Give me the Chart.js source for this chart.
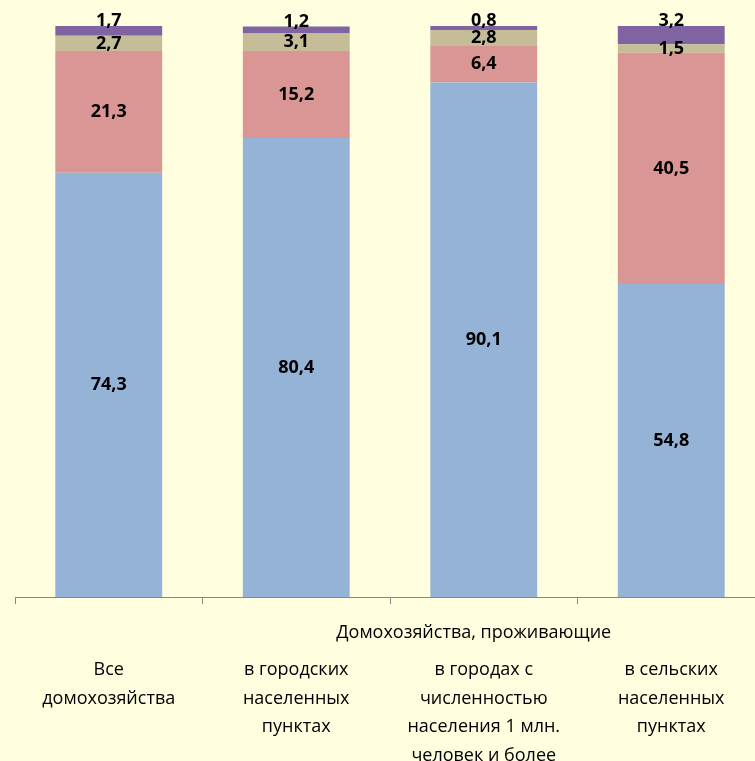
<!DOCTYPE html>
<html>
<head>
<meta charset="utf-8">
<script src="https://cdn.jsdelivr.net/npm/chart.js@4/dist/chart.umd.min.js"></script>
<style>
html,body{margin:0;padding:0;background:#FFFFE0;overflow:hidden;}
#wrap{position:relative;width:755px;height:761px;overflow:hidden;}
</style>
</head>
<body>
<div id="wrap"><canvas id="c" width="765" height="761"></canvas></div>
<script>
const categories = [
  ["Все", "домохозяйства"],
  ["в городских", "населенных", "пунктах"],
  ["в городах с", "численностью", "населения 1 млн.", "человек и более"],
  ["в сельских", "населенных", "пунктах"]
];
const groupLabel = "Домохозяйства, проживающие";
const seriesBlue = [74.3, 80.4, 90.1, 54.8];
const seriesRed = [21.3, 15.2, 6.4, 40.5];
const seriesTan = [2.7, 3.1, 2.8, 1.5];
const seriesPurple = [1.7, 1.2, 0.8, 3.2];

const colors = ["#95B3D7", "#D99694", "#C4BD97", "#8064A2"];
const FONT = "'Open Sans', 'DejaVu Sans', sans-serif";
const VISIBLE_WIDTH = 755;

const bgPlugin = {
  id: 'bg',
  beforeDraw(chart) {
    const ctx = chart.ctx;
    ctx.save();
    ctx.fillStyle = '#FFFFE0';
    ctx.fillRect(0, 0, chart.width, chart.height);
    ctx.restore();
  }
};

const labelPlugin = {
  id: 'vals',
  afterDatasetsDraw(chart) {
    const ctx = chart.ctx;
    ctx.save();
    ctx.font = "bold 18px " + FONT;
    ctx.fillStyle = '#000';
    ctx.textAlign = 'center';
    ctx.textBaseline = 'middle';
    chart.data.datasets.forEach((ds, di) => {
      const meta = chart.getDatasetMeta(di);
      meta.data.forEach((el, i) => {
        const v = ds.data[i];
        const txt = v.toFixed(1).replace('.', ',');
        let y = (el.y + el.base) / 2;
        if (di === 3) y = el.y - 5;
        ctx.fillText(txt, el.x, y);
      });
    });
    // group header spanning the three settlement categories (visible part)
    const xs = chart.scales.x;
    const half = (xs.getPixelForValue(1) - xs.getPixelForValue(0)) / 2;
    const x1 = xs.getPixelForValue(1) - half;
    const x2 = Math.min(xs.getPixelForValue(3) + half, VISIBLE_WIDTH);
    ctx.font = "18px " + FONT;
    ctx.fillText(groupLabel, (x1 + x2) / 2 - 5, 633);
    ctx.restore();
  }
};

new Chart(document.getElementById('c'), {
  type: 'bar',
  data: {
    labels: categories,
    datasets: [
      { data: seriesBlue, backgroundColor: colors[0] },
      { data: seriesRed, backgroundColor: colors[1] },
      { data: seriesTan, backgroundColor: colors[2] },
      { data: seriesPurple, backgroundColor: colors[3] }
    ]
  },
  options: {
    responsive: false,
    animation: false,
    layout: { padding: { top: 26, left: 15, right: 0, bottom: 0 } },
    datasets: { bar: { barPercentage: 0.57, categoryPercentage: 1.0, borderWidth: 0 } },
    plugins: { legend: { display: false }, tooltip: { enabled: false } },
    scales: {
      x: {
        stacked: true,
        border: { display: true, color: '#868686', width: 1 },
        grid: { offset: true, drawOnChartArea: false, drawTicks: true, tickLength: 7, color: '#868686' },
        ticks: { color: '#000', font: { family: FONT, size: 18, lineHeight: 1.58 }, padding: 52, maxRotation: 0, autoSkip: false },
        afterFit(scale) { scale.height = 164; scale.paddingLeft = 0; scale.paddingRight = 0; }
      },
      y: {
        stacked: true,
        display: false,
        min: 0,
        max: 100
      }
    }
  },
  plugins: [bgPlugin, labelPlugin]
});
</script>
</body>
</html>
